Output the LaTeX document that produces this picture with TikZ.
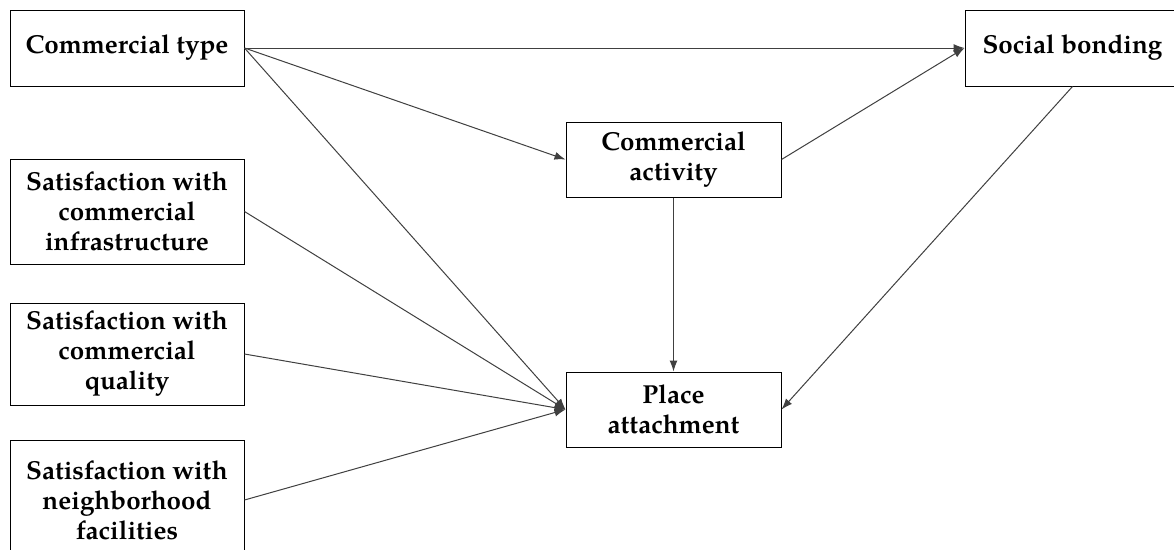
\documentclass[tikz,border=0pt]{standalone}
\usepackage{fontspec}
\setmainfont{TeX Gyre Pagella}
\usetikzlibrary{arrows.meta}
\begin{document}
\begin{tikzpicture}[x=1pt,y=-1pt,
  box/.style={draw=black, line width=1pt, rectangle, align=center, inner sep=0pt,
    font=\fontsize{26}{30}\selectfont\bfseries, text=black},
  conn/.style={draw=black!75, line width=1pt, -{Latex[length=11pt,width=8pt]}}]
\clip (0,0) rectangle (1174,549);
\fill[white] (0,0) rectangle (1174,549);
\node[box, minimum width=234pt, minimum height=76pt] (ct) at (127,48) {Commercial type};
\node[box, minimum width=234pt, minimum height=105pt] (inf) at (127,211.5) {Satisfaction with\\commercial\\infrastructure};
\node[box, minimum width=234pt, minimum height=102pt] (qual) at (127,354) {Satisfaction with\\commercial\\quality};
\node[box, minimum width=234pt, minimum height=120pt] (nb) at (127,500) {Satisfaction with\\neighborhood\\facilities};
\node[box, minimum width=215pt, minimum height=75pt] (ca) at (673.5,159.5) {Commercial\\activity};
\node[box, minimum width=215pt, minimum height=75pt] (pa) at (673.5,409.5) {Place\\attachment};
\node[box, minimum width=215pt, minimum height=76pt] (sb) at (1072.5,48) {Social bonding};
\draw[conn] (ct.east) -- (sb.west);
\draw[conn] (ct.east) -- (ca.west);
\draw[conn] (ct.east) -- (pa.west);
\draw[conn] (inf.east) -- (pa.west);
\draw[conn] (qual.east) -- (pa.west);
\draw[conn] (nb.east) -- (pa.west);
\draw[conn] (ca.east) -- (sb.west);
\draw[conn] (ca.south) -- (pa.north);
\draw[conn] (sb.south) -- (pa.east);
\end{tikzpicture}
\end{document}
